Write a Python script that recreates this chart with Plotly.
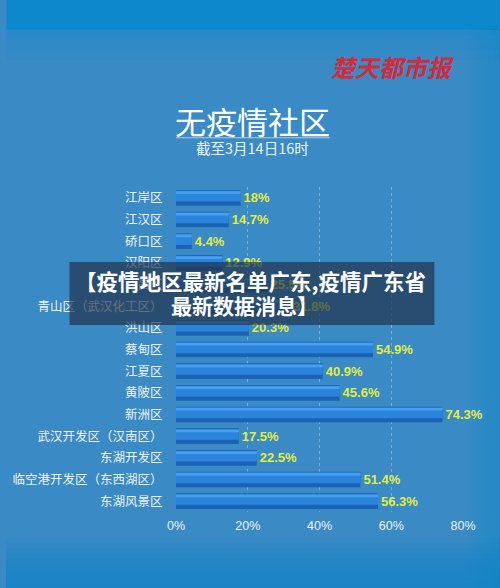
import plotly.graph_objects as go

categories = ["江岸区", "江汉区", "硚口区", "汉阳区", "武昌区", "青山区（武汉化工区）",
              "洪山区", "蔡甸区", "江夏区", "黄陂区", "新洲区", "武汉开发区（汉南区）",
              "东湖开发区", "临空港开发区（东西湖区）", "东湖风景区"]
values = [18, 14.7, 4.4, 12.9, 25.5, 31.8, 20.3, 54.9, 40.9, 45.6, 74.3, 17.5, 22.5, 51.4, 56.3]
tick_vals = [0, 20, 40, 60, 80]
tick_text = ["0%", "20%", "40%", "60%", "80%"]
labels = [f"{v:g}%" for v in values]

W, H = 500, 588
L, R = 172, 463
n = len(categories)
slot = (501 - 198) / (n - 1)
TOP = 198 - slot / 2
BOT = TOP + slot * n

def py(p):  # pixel y -> paper y
    return (BOT - p) / (BOT - TOP)

def px(p):  # pixel x -> paper x
    return (p - L) / (R - L)

FONT = "Noto Sans CJK SC"
NUMFONT = "Liberation Sans, Arial, sans-serif"

fig = go.Figure()
fig.add_trace(go.Bar(
    y=categories, x=values, orientation="h",
    marker=dict(color="#1c62b4", line=dict(width=0)),
    width=0.72, offset=-0.36,
    text=labels, textposition="outside", cliponaxis=False,
    textfont=dict(color="#e2ee3e", size=13, family=NUMFONT, weight="bold"),
    hoverinfo="skip",
))
fig.add_trace(go.Bar(
    y=categories, x=values, orientation="h",
    marker=dict(color="#2a84dc", line=dict(width=0)),
    width=0.5, offset=-0.33,
    hoverinfo="skip",
))
fig.add_trace(go.Bar(
    y=categories, x=values, orientation="h",
    marker=dict(color="#46a0ee", line=dict(width=0)),
    width=0.12, offset=-0.3,
    hoverinfo="skip",
))

shapes = []
EDGE = "13,136,204"
# top band
shapes.append(dict(type="rect", xref="paper", yref="paper", x0=px(0), x1=px(W), y0=py(0), y1=py(30),
                   fillcolor=f"rgb({EDGE})", line=dict(width=0), layer="below"))
# soft gradient strips
for i in range(6):
    shapes.append(dict(type="rect", xref="paper", yref="paper", x0=px(0), x1=px(W),
                       y0=py(30 + 5 * i), y1=py(35 + 5 * i),
                       fillcolor=f"rgba({EDGE},{0.35 - 0.055 * i:.3f})", line=dict(width=0), layer="below"))
for i in range(10):
    shapes.append(dict(type="rect", xref="paper", yref="paper", x0=px(0), x1=px(W),
                       y0=py(538 + 5 * i), y1=py(H),
                       fillcolor=f"rgba({EDGE},0.09)", line=dict(width=0), layer="below"))
for i in range(8):
    shapes.append(dict(type="rect", xref="paper", yref="paper", x0=px(468 + 4 * i), x1=px(W),
                       y0=py(30), y1=py(H),
                       fillcolor=f"rgba({EDGE},0.07)", line=dict(width=0), layer="below"))
# title underline
shapes.append(dict(type="line", xref="paper", yref="paper", x0=px(172), x1=px(328), y0=py(138), y1=py(138),
                   line=dict(color="rgba(220,235,250,0.7)", width=1)))
# overlay banner
shapes.append(dict(type="rect", xref="paper", yref="paper", x0=px(64), x1=px(434), y0=py(262), y1=py(325),
                   fillcolor="rgba(32,48,72,0.68)", line=dict(width=0), layer="above"))

annotations = [
    dict(text="无疫情社区", x=px(250), y=py(121), xref="paper", yref="paper", showarrow=False,
         font=dict(size=31, color="white", family=FONT), xanchor="center", yanchor="middle"),
    dict(text="截至3月14日16时", x=px(250), y=py(148), xref="paper", yref="paper", showarrow=False,
         font=dict(size=14.5, color="#eef4fa", family=FONT), xanchor="center", yanchor="middle"),
    dict(text="<i>楚天都市报</i>", x=px(392), y=py(67), xref="paper", yref="paper", showarrow=False,
         font=dict(size=24, color="#d42a3a", family=FONT, weight="bold"), xanchor="center", yanchor="middle"),
    dict(text="<b>【疫情地区最新名单广东,疫情广东省</b>", x=px(248), y=py(281), xref="paper", yref="paper",
         showarrow=False, font=dict(size=21.5, color="white", family=FONT), xanchor="center", yanchor="middle"),
    dict(text="<b>最新数据消息】</b>", x=px(241), y=py(305), xref="paper", yref="paper",
         showarrow=False, font=dict(size=21, color="white", family=FONT), xanchor="center", yanchor="middle"),
]

fig.update_layout(
    width=W, height=H,
    margin=dict(l=L, r=W - R, t=TOP, b=H - BOT, pad=0),
    paper_bgcolor="#3a8ac5", plot_bgcolor="rgba(0,0,0,0)",
    barmode="overlay", showlegend=False,
    shapes=shapes, annotations=annotations,
    font=dict(family=FONT),
)
fig.update_xaxes(range=[0, 80], tickvals=tick_vals, ticktext=tick_text, showgrid=True,
                 gridcolor="rgba(230,240,250,0.35)", griddash="dot", gridwidth=1,
                 zeroline=False, showline=False, ticks="outside", ticklen=2, tickcolor="rgba(0,0,0,0)",
                 tickfont=dict(color="#f0f4fa", size=12.5, family=NUMFONT), fixedrange=True)
fig.update_yaxes(range=[n - 0.5, -0.5], categoryorder="array", categoryarray=categories,
                 showgrid=False, zeroline=False, showline=False,
                 ticks="outside", ticklen=10, tickcolor="rgba(0,0,0,0)",
                 tickfont=dict(color="#eef3f9", size=12.5, family=FONT), fixedrange=True)

fig.write_html("out.html", config={"displayModeBar": False},
               post_script="document.body.style.margin='0';document.body.style.background='#3a8ac5';")
